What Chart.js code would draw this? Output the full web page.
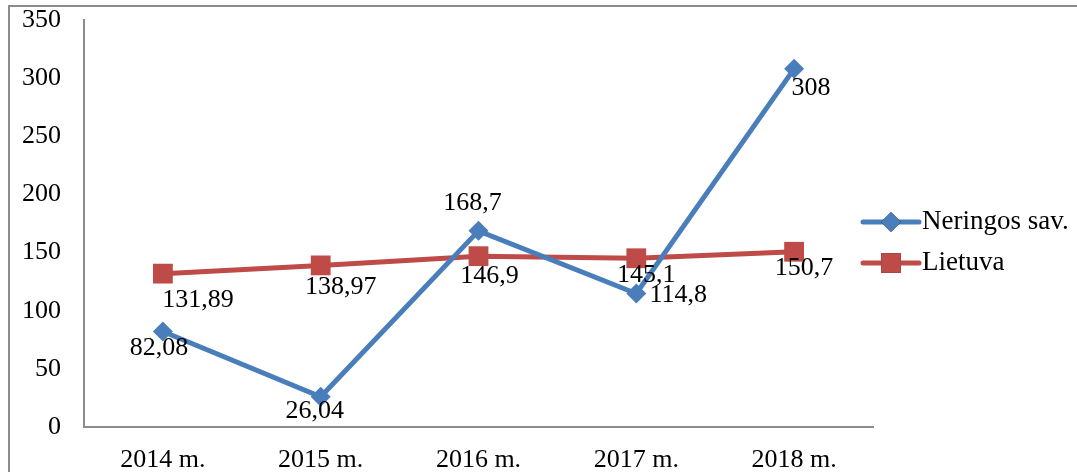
<!DOCTYPE html>
<html>
<head>
<meta charset="utf-8">
<script src="https://cdn.jsdelivr.net/npm/chart.js@4"></script>
<style>
  html, body { margin: 0; padding: 0; background: #fff; overflow: hidden; }
  #frame { position: absolute; left: 8px; top: 5px; width: 1200px; height: 600px; border: 2px solid #8c8c8c; }
  #wrap { position: absolute; left: 0; top: 0; width: 1077px; height: 472px; }
  #probe { position: absolute; left: -500px; top: -500px; font: 26px "Liberation Serif"; }
</style>
</head>
<body>
<div id="frame"></div>
<span id="probe">0123 Neringos</span>
<div id="wrap"><canvas id="chart"></canvas></div>
<script>
// chart data
const years = ['2014 m.', '2015 m.', '2016 m.', '2017 m.', '2018 m.'];
const neringa = [82.08, 26.04, 168.7, 114.8, 308];
const lietuva = [131.89, 138.97, 146.9, 145.1, 150.7];
const yTicks = [0, 50, 100, 150, 200, 250, 300, 350];

const FONT = '"Liberation Serif", "Times New Roman", serif';
const FSIZE = 26;
const BLUE = '#4a7ebb';
const RED = '#be4b48';

// label offsets from each point (px)
const labelOffsets = [
    [[-4, 17], [-6, 14], [-6, -28], [42, 2], [17, 19]],
    [[35, 27], [20, 22], [11, 20], [10, 17], [10, 16]]
];

function fmt(v) {
    return String(v).replace('.', ',');
}

// draws value labels next to points
const valueLabels = {
    id: 'valueLabels',
    afterDatasetsDraw(chart) {
        const ctx = chart.ctx;
        ctx.save();
        ctx.font = FSIZE + 'px ' + FONT;
        ctx.fillStyle = '#000';
        ctx.textAlign = 'center';
        ctx.textBaseline = 'middle';
        chart.data.datasets.forEach((ds, i) => {
            chart.getDatasetMeta(i).data.forEach((pt, j) => {
                const off = labelOffsets[i][j];
                ctx.fillText(fmt(ds.data[j]), pt.x + off[0], pt.y + off[1]);
            });
        });
        ctx.restore();
    }
};

// legend with line + marker
const lineLegend = {
    id: 'lineLegend',
    afterDraw(chart) {
        const ctx = chart.ctx;
        const x0 = 863, x1 = 919;
        const rows = [222, 263];
        ctx.save();
        chart.data.datasets.forEach((ds, i) => {
            const y = rows[i];
            ctx.strokeStyle = ds.borderColor;
            ctx.lineWidth = 5;
            ctx.lineCap = 'round';
            ctx.beginPath();
            ctx.moveTo(x0, y);
            ctx.lineTo(x1, y);
            ctx.stroke();
            Chart.helpers.drawPoint(ctx, {
                pointStyle: ds.pointStyle,
                radius: ds.pointRadius,
                borderWidth: 0
            }, (x0 + x1) / 2, y);
            ctx.fillStyle = ds.backgroundColor;
            ctx.fill();
            ctx.fillStyle = '#000';
            ctx.font = '27px ' + FONT;
            ctx.textAlign = 'left';
            ctx.textBaseline = 'middle';
            ctx.fillText(ds.label, x1 + 3, y);
        });
        ctx.restore();
    }
};

function drawChart() {
    new Chart(document.getElementById('chart'), {
        type: 'line',
        data: {
            labels: years,
            datasets: [
                {
                    label: 'Neringos sav.',
                    data: neringa,
                    borderColor: BLUE,
                    backgroundColor: BLUE,
                    borderWidth: 5,
                    pointStyle: 'rectRot',
                    pointRadius: 10,
                    pointBorderWidth: 0,
                    tension: 0
                },
                {
                    label: 'Lietuva',
                    data: lietuva,
                    borderColor: RED,
                    backgroundColor: RED,
                    borderWidth: 5,
                    pointStyle: 'rect',
                    pointRadius: 14,
                    pointBorderWidth: 0,
                    tension: 0
                }
            ]
        },
        options: {
            responsive: true,
            maintainAspectRatio: false,
            animation: false,
            layout: { padding: { left: 0, right: 204, top: 20, bottom: 0 } },
            plugins: {
                legend: { display: false },
                tooltip: { enabled: false }
            },
            scales: {
                x: {
                    offset: true,
                    grid: { display: false },
                    border: { display: true, color: '#8c8c8c', width: 2 },
                    ticks: { color: '#000', font: { family: FONT, size: FSIZE }, padding: 10, maxRotation: 0 },
                    afterFit(scale) {
                        scale.height = 45;
                        scale.paddingLeft = 0;
                        scale.paddingRight = 0;
                    }
                },
                y: {
                    min: 0,
                    max: 350,
                    grid: { display: false },
                    border: { display: true, color: '#8c8c8c', width: 2 },
                    afterBuildTicks(scale) { scale.ticks = yTicks.map(v => ({ value: v })); },
                    ticks: { color: '#000', font: { family: FONT, size: FSIZE }, padding: 15 },
                    afterFit(scale) {
                        scale.width = 84;
                        scale.paddingTop = 0;
                        scale.paddingBottom = 0;
                    }
                }
            }
        },
        plugins: [valueLabels, lineLegend]
    });
}

document.fonts.load(FSIZE + 'px "Liberation Serif"').then(drawChart, drawChart);
</script>
</body>
</html>
